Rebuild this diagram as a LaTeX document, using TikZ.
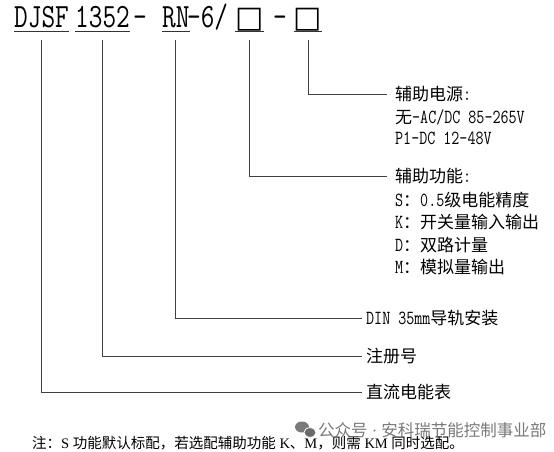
\documentclass[tikz,border=0pt]{standalone}
\usepackage{fontspec}
\setmainfont{Liberation Serif}
\newfontfamily\cjk{Noto Sans CJK SC}
\newfontfamily\symfont{DejaVu Sans}
\usetikzlibrary{positioning}
\definecolor{wmgray}{gray}{0.42}
\newcommand{\nar}[2][20]{\scalebox{0.78}[1]{\fontsize{#1}{#1}\selectfont\ttfamily #2}}
\tikzset{
  code/.style={anchor=base west, inner xsep=0pt, inner ysep=3pt, text depth=0pt},
  slot/.style={anchor=base, inner xsep=0pt, inner ysep=3pt, text depth=0pt, minimum width=27pt, font=\fontsize{30}{30}\selectfont\symfont},
  uline/.style={line width=0.9pt, black!80},
  lead/.style={line width=0.8pt, black!75},
  item/.style={anchor=west, inner xsep=8pt, inner ysep=1pt, font=\fontsize{17}{20}\selectfont\cjk},
  remark/.style={anchor=west, inner sep=0pt, font=\fontsize{14.5}{17}\selectfont},
  stamp/.style={anchor=west, inner sep=0pt, font=\fontsize{16.5}{18}\selectfont\cjk, text=wmgray, text opacity=0.9}
}

\begin{document}
\begin{tikzpicture}[x=1pt, y=-1pt]
  \useasboundingbox (0,0) rectangle (554,452);

  % model code
  \node[code] (series) at (14,28) {\nar[34]{DJSF}};
  \node[code] (regno) at (75,28) {\nar[34]{1352}};
  \node[code] (dasha) at (133,28) {\nar[34]{–}};
  \node[code] (rail) at (162,28) {\nar[34]{RN}};
  \node[code] (tail) at (187,28) {\nar[34]{–6/}};
  \node[slot] (funcbox) at (249.5,28) {□};
  \node[code] (dashb) at (273,28) {\nar[34]{–}};
  \node[slot] (powbox) at (308,28) {□};
  \foreach \n in {series,regno,rail,funcbox,powbox}
    \draw[uline] (\n.south west) -- (\n.south east);

  % meanings
  \node[item] (power) at (387,94) {辅助电源\nar{:}};
  \node[item] (powa) at (387,117) {无\nar{-AC/DC 85-265V}};
  \node[item] (powb) at (387,138) {\nar{P1-DC 12-48V}};
  \node[item] (func) at (387,176) {辅助功能\nar{:}};
  \node[item] (funcs) at (387,200) {\nar{S}：\nar{0.5}级电能精度};
  \node[item] (funck) at (387,222) {\nar{K}：开关量输入输出};
  \node[item] (funcd) at (387,245) {\nar{D}：双路计量};
  \node[item] (funcm) at (387,267) {\nar{M}：模拟量输出};
  \node[item, inner xsep=4pt] (din) at (362,318) {\nar{DIN 35mm}导轨安装};
  \node[item, inner xsep=4pt] (reg) at (362,356) {注册号};
  \node[item, inner xsep=4pt] (meter) at (362,392) {直流电能表};

  \foreach \s/\t in {series/meter,regno/reg,rail/din,funcbox/func,powbox/power}
    \draw[lead] ([yshift=-9pt]\s.south) |- (\t.west);

  % note and watermark
  \node[remark] (note) at (32,443) {{\cjk 注：}S {\cjk 功能默认标配，若选配辅助功能} K{\cjk 、}M{\cjk ，则需} KM {\cjk 同时选配。}};
  \fill[wmgray, opacity=0.9] (302,427) ellipse [x radius=7pt, y radius=5.5pt];
  \filldraw[wmgray, draw=white, line width=0.8pt] (310,432.5) ellipse [x radius=6pt, y radius=4.8pt];
  \node[stamp] (wm) at (318,430) {公众号{\rmfamily\ ·\ }安科瑞节能控制事业部};
\end{tikzpicture}
\end{document}
